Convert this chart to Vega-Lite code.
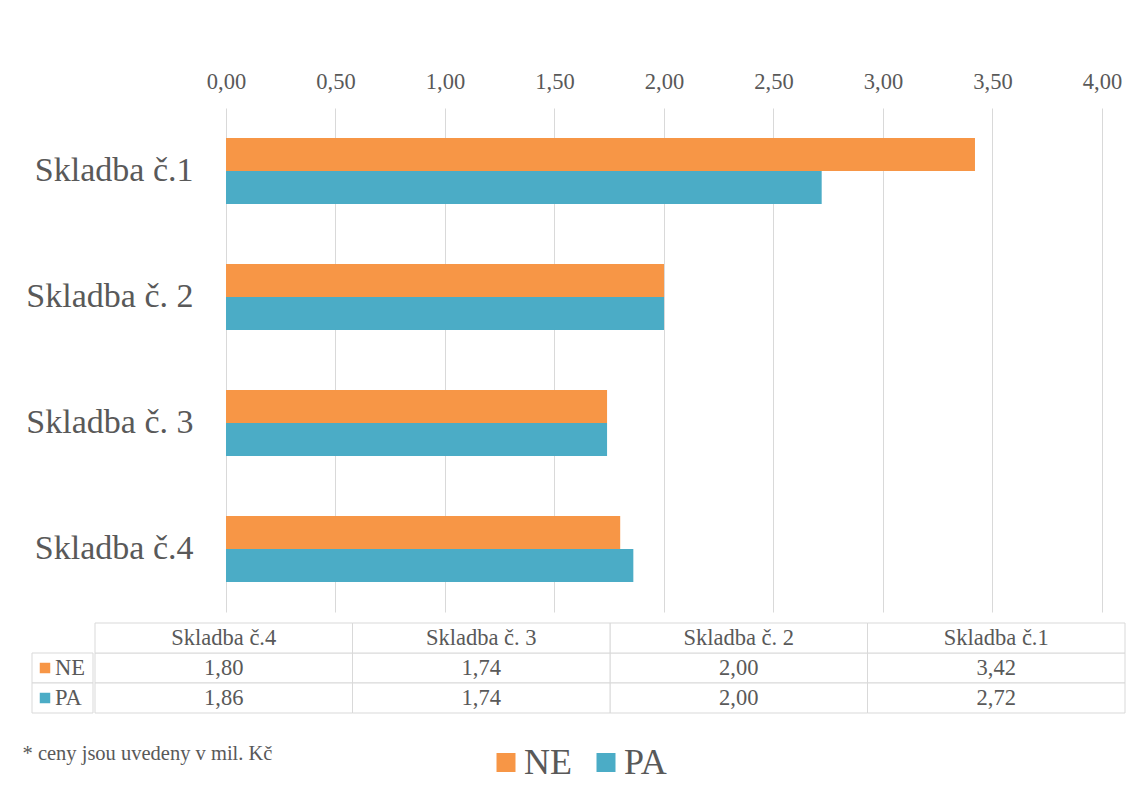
{
  "$schema": "https://vega.github.io/schema/vega-lite/v6.json",
  "padding": {"left": 22, "top": 70, "right": 0, "bottom": 0},
  "background": "white",
  "config": {
    "locale": {"number": {"decimal": ",", "thousands": " ", "grouping": [3], "currency": ["", " Kč"]}},
    "font": "Liberation Serif",
    "view": {"stroke": null},
    "axis": {"labelFont": "Liberation Serif", "labelColor": "#595959"},
    "text": {"font": "Liberation Serif", "color": "#595959"}
  },
  "datasets": {
    "ceny": [
      {"skladba": "Skladba č.1", "serie": "NE", "cena": 3.42},
      {"skladba": "Skladba č.1", "serie": "PA", "cena": 2.72},
      {"skladba": "Skladba č. 2", "serie": "NE", "cena": 2.00},
      {"skladba": "Skladba č. 2", "serie": "PA", "cena": 2.00},
      {"skladba": "Skladba č. 3", "serie": "NE", "cena": 1.74},
      {"skladba": "Skladba č. 3", "serie": "PA", "cena": 1.74},
      {"skladba": "Skladba č.4", "serie": "NE", "cena": 1.80},
      {"skladba": "Skladba č.4", "serie": "PA", "cena": 1.86}
    ]
  },
  "spacing": 10,
  "vconcat": [
    {
      "width": 1091,
      "height": 504,
      "data": {"name": "ceny"},
      "mark": {"type": "bar"},
      "encoding": {
        "x": {
          "field": "cena",
          "type": "quantitative",
          "scale": {"domain": [-0.88584, 4.09589], "nice": false, "zero": false},
          "axis": {
            "orient": "top",
            "title": null,
            "values": [0, 0.5, 1, 1.5, 2, 2.5, 3, 3.5, 4],
            "format": ".2f",
            "labelFontSize": 22.5,
            "labelPadding": 15,
            "labelFlush": false,
            "ticks": false,
            "domain": false,
            "grid": true,
            "gridColor": "#d9d9d9",
            "gridWidth": 1
          }
        },
        "x2": {"datum": 0},
        "y": {
          "field": "skladba",
          "type": "nominal",
          "sort": ["Skladba č.1", "Skladba č. 2", "Skladba č. 3", "Skladba č.4"],
          "scale": {"paddingInner": 0.476, "paddingOuter": 0.238},
          "axis": {
            "title": null,
            "ticks": false,
            "domain": false,
            "labelFontSize": 34,
            "labelPadding": 0,
            "labelLimit": 0,
            "offset": -161
          }
        },
        "yOffset": {
          "field": "serie",
          "type": "nominal",
          "sort": ["NE", "PA"],
          "scale": {"paddingInner": 0, "paddingOuter": 0}
        },
        "color": {
          "field": "serie",
          "type": "nominal",
          "scale": {"domain": ["NE", "PA"], "range": ["#F79646", "#4BACC6"]},
          "legend": {
            "orient": "none",
            "legendX": 456,
            "legendY": 636.5,
            "direction": "horizontal",
            "title": null,
            "padding": 0,
            "symbolType": "square",
            "symbolSize": 361,
            "symbolStrokeWidth": 0,
            "symbolOpacity": 1,
            "labelFont": "Liberation Serif",
            "labelFontSize": 36,
            "labelColor": "#595959",
            "labelOffset": 0,
            "labelLimit": 0,
            "columnPadding": 16
          }
        }
      }
    },
    {
      "title": {
        "text": "* ceny jsou uvedeny v mil. Kč",
        "orient": "bottom",
        "anchor": "start",
        "frame": "bounds",
        "dx": -9,
        "offset": 30,
        "baseline": "top",
        "font": "Liberation Serif",
        "fontSize": 20.5,
        "fontWeight": "normal",
        "color": "#595959"
      },
      "spacing": 0,
      "hconcat": [
        {
          "width": 61,
          "height": 90,
          "data": {"name": "ceny"},
          "transform": [{"filter": "datum.skladba === 'Skladba č.1'"}],
          "encoding": {
            "y": {
              "field": "serie",
              "type": "nominal",
              "scale": {"domain": ["záhlaví", "NE", "PA"], "paddingInner": 0, "paddingOuter": 0},
              "axis": null
            }
          },
          "layer": [
            {
              "mark": {"type": "rect", "fill": "white", "stroke": "#d9d9d9", "strokeWidth": 1},
              "encoding": {
                "x": {"datum": 0, "type": "quantitative", "scale": {"domain": [0, 1], "nice": false}, "axis": null},
                "x2": {"datum": 1}
              }
            },
            {
              "mark": {"type": "point", "shape": "square", "filled": true, "size": 110, "opacity": 1, "xOffset": 13},
              "encoding": {
                "x": {"datum": 0, "type": "quantitative"},
                "color": {
                  "field": "serie",
                  "type": "nominal",
                  "scale": {"domain": ["NE", "PA"], "range": ["#F79646", "#4BACC6"]},
                  "legend": {
                    "orient": "none",
                    "legendX": 456,
                    "legendY": 636.5,
                    "direction": "horizontal",
                    "title": null,
                    "padding": 0,
                    "symbolType": "square",
                    "symbolSize": 361,
                    "symbolStrokeWidth": 0,
                    "symbolOpacity": 1,
                    "labelFont": "Liberation Serif",
                    "labelFontSize": 36,
                    "labelColor": "#595959",
                    "labelOffset": 0,
                    "labelLimit": 0,
                    "columnPadding": 16
                  }
                }
              }
            },
            {
              "mark": {"type": "text", "align": "left", "dx": 23, "fontSize": 22.5},
              "encoding": {
                "x": {"datum": 0, "type": "quantitative"},
                "text": {"field": "serie", "type": "nominal"}
              }
            }
          ]
        },
        {
          "width": 1030,
          "height": 90,
          "data": {"name": "ceny"},
          "encoding": {
            "x": {
              "field": "skladba",
              "type": "nominal",
              "sort": ["Skladba č.4", "Skladba č. 3", "Skladba č. 2", "Skladba č.1"],
              "scale": {"paddingInner": 0, "paddingOuter": 0},
              "axis": null
            }
          },
          "layer": [
            {
              "mark": {"type": "rect", "fill": "white", "stroke": "#d9d9d9", "strokeWidth": 1},
              "encoding": {
                "y": {
                  "field": "serie",
                  "type": "nominal",
                  "scale": {"domain": ["záhlaví", "NE", "PA"], "paddingInner": 0, "paddingOuter": 0},
                  "axis": null
                }
              }
            },
            {
              "transform": [{"filter": "datum.serie === 'NE'"}],
              "mark": {"type": "rect", "fill": "white", "stroke": "#d9d9d9", "strokeWidth": 1},
              "encoding": {"y": {"datum": "záhlaví", "type": "nominal"}}
            },
            {
              "mark": {"type": "text", "fontSize": 22.5},
              "encoding": {
                "y": {"field": "serie", "type": "nominal"},
                "text": {"field": "cena", "type": "quantitative", "format": ".2f"}
              }
            },
            {
              "transform": [{"filter": "datum.serie === 'NE'"}],
              "mark": {"type": "text", "fontSize": 22.5},
              "encoding": {
                "y": {"datum": "záhlaví", "type": "nominal"},
                "text": {"field": "skladba", "type": "nominal"}
              }
            }
          ]
        }
      ]
    }
  ]
}
